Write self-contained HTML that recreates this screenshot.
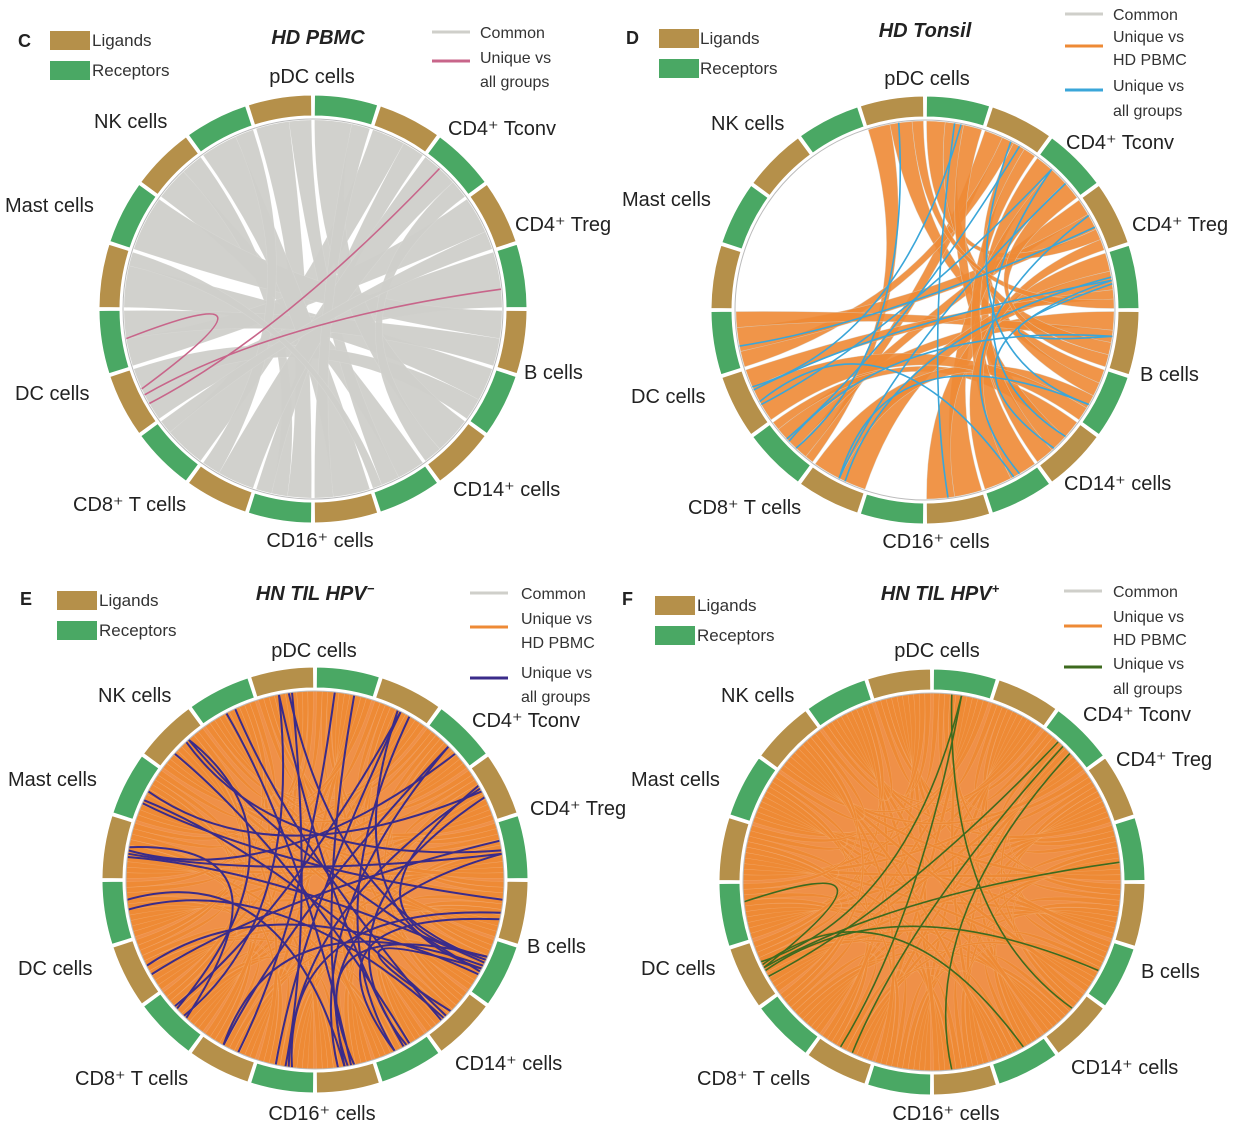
<!DOCTYPE html>
<html><head><meta charset="utf-8">
<style>
html,body{margin:0;padding:0;background:#fff;}
svg{display:block;font-family:"Liberation Sans",sans-serif;}
</style></head>
<body>
<svg id="fig" width="1243" height="1125" viewBox="0 0 1243 1125" xmlns="http://www.w3.org/2000/svg">
<g id="chords"></g>
<g id="static" font-size="19" fill="#222">
  <text x="18" y="47" font-weight="bold" font-size="18">C</text>
  <text x="626" y="44" font-weight="bold" font-size="18">D</text>
  <text x="20" y="605" font-weight="bold" font-size="18">E</text>
  <text x="622" y="605" font-weight="bold" font-size="18">F</text>
  <text x="318" y="44" text-anchor="middle" font-weight="bold" font-style="italic" font-size="20">HD PBMC</text>
  <text x="925" y="37" text-anchor="middle" font-weight="bold" font-style="italic" font-size="20">HD Tonsil</text>
  <text x="315" y="600" text-anchor="middle" font-weight="bold" font-style="italic" font-size="20">HN TIL HPV<tspan font-size="13" dy="-7">−</tspan></text>
  <text x="940" y="600" text-anchor="middle" font-weight="bold" font-style="italic" font-size="20">HN TIL HPV<tspan font-size="13" dy="-7">+</tspan></text>
</g>
<g id="legends" font-size="17" fill="#333"></g>
<g id="rings"></g>
<g id="labels" font-size="20" fill="#222"></g>
</svg>
<script>
const NS="http://www.w3.org/2000/svg";
const cells=["pDC cells","CD4⁺ Tconv","CD4⁺ Treg","B cells","CD14⁺ cells","CD16⁺ cells","CD8⁺ T cells","DC cells","Mast cells","NK cells"];
const linksC=[[9,4,3],[0,5,3],[1,6,3],[9,5,2],[0,4,2],[1,5,2],[8,3,3],[7,2,2],[7,3,2],[2,7,2],[3,8,2],[3,7,2],[4,0,2],[5,9,2],[6,1,2],[4,1,1],[5,0,1],[6,9,1],[2,6,1],[8,4,1]];
const linksD=[[0,6,2],[0,3,2],[1,6,3],[1,7,2],[1,3,2],[2,6,3],[2,7,3],[2,0,2],[3,6,3],[3,7,2],[3,0,2],[4,6,2],[4,0,2],[4,1,2],[5,1,2],[5,2,2],[6,2,2],[6,3,2],[7,3,2],[7,2,1],[1,4,2],[2,4,2],[0,2,1],[3,1,2]];
const hiD=[[7,1],[7,2],[6,3],[6,2],[7,0],[2,7],[3,6],[4,1],[5,0],[6,1],[7,4],[1,6],[0,6],[3,2],[2,4],[4,2],[1,3]];
const hiC=[[7,1],[7,7],[7,2]];
const hiE=[[9,4],[0,5],[1,5],[2,5],[3,4],[3,5],[4,3],[5,3],[6,3],[7,3],[8,3],[9,3],[0,3],[1,3],[2,3],[5,1],[5,0],[5,9],[4,9],[4,8],[8,2],[7,2],[6,1],[1,6],[0,6],[9,6],[8,6],[2,8],[3,8],[4,7],[5,7],[0,4],[1,4],[2,4],[5,2],[6,0],[9,2],[8,1]];
const hiF=[[7,1],[7,0],[7,2],[6,1],[5,1],[7,4],[7,3],[4,0],[6,0],[7,7]];
function allPairs(){const a=[];for(let s=0;s<10;s++)for(let t=0;t<10;t++)a.push([s,t,1]);return a;}
const linksE=allPairs();
const linksF=allPairs();
const panels=[
 {id:"c",cx:313,cy:309,R:214,links:linksC,fill:"#cfcfca",op:0.95,hi:hiC,hc:"#c8658a",under:null,disk:null},
 {id:"d",cx:925,cy:310,R:214,links:linksD,fill:"#ee8a35",op:0.9,hi:hiD,hc:"#3aa6d9",under:"#d5d5d0",disk:null},
 {id:"e",cx:315,cy:880,R:213,links:linksE,fill:"#ee8a35",op:1,hi:hiE,hc:"#3a2b8a",under:null,disk:"#ef9048"},
 {id:"f",cx:932,cy:882,R:213,links:linksF,fill:"#ee8a35",op:1,hi:hiF,hc:"#3d6a1e",under:null,disk:"#ef9048"}
];
const labelPos={
 c:[[312,76,"middle"],[448,128,"start"],[515,224,"start"],[524,372,"start"],[453,489,"start"],[320,540,"middle"],[73,504,"start"],[15,393,"start"],[5,205,"start"],[94,121,"start"]],
 d:[[927,78,"middle"],[1066,142,"start"],[1132,224,"start"],[1140,374,"start"],[1064,483,"start"],[936,541,"middle"],[688,507,"start"],[631,396,"start"],[622,199,"start"],[711,123,"start"]],
 e:[[314,650,"middle"],[472,720,"start"],[530,808,"start"],[527,946,"start"],[455,1063,"start"],[322,1113,"middle"],[75,1078,"start"],[18,968,"start"],[8,779,"start"],[98,695,"start"]],
 f:[[937,650,"middle"],[1083,714,"start"],[1116,759,"start"],[1141,971,"start"],[1071,1067,"start"],[946,1113,"middle"],[697,1078,"start"],[641,968,"start"],[631,779,"start"],[721,695,"start"]]
};
function pt(p,r,deg){const a=deg*Math.PI/180;return [p.cx+r*Math.sin(a),p.cy-r*Math.cos(a)];}
function f(v){return v[0].toFixed(1)+" "+v[1].toFixed(1);}
const chordG=document.getElementById("chords");
const ringG=document.getElementById("rings");
const labG=document.getElementById("labels");
panels.forEach(p=>{
  const r=189;
  const g=document.createElementNS(NS,"g");
  
  
  chordG.appendChild(g);
  if(p.disk){
    const dk=document.createElementNS(NS,"circle");
    
    
    dk.setAttribute("cx",p.cx);dk.setAttribute("cy",p.cy);dk.setAttribute("r",r);dk.setAttribute("fill",p.disk);
    g.appendChild(dk);
  }
  const srcTot=new Array(10).fill(0),tgtTot=new Array(10).fill(0);
  p.links.forEach(l=>{srcTot[l[0]]+=l[2];tgtTot[l[1]]+=l[2];});
  const srcUsed=new Array(10).fill(0),tgtUsed=new Array(10).fill(0);
  p.links.forEach(l=>{
    const s=l[0],t=l[1],w=l[2];
    const sa=36*s-18+0.5, sw=17;
    const ta=36*t+0.5, tw=17;
    const a1=sa+sw*srcUsed[s]/srcTot[s]; srcUsed[s]+=w; const a2=sa+sw*srcUsed[s]/srcTot[s];
    const b1=ta+tw*tgtUsed[t]/tgtTot[t]; tgtUsed[t]+=w; const b2=ta+tw*tgtUsed[t]/tgtTot[t];
    const c=[p.cx,p.cy];
    const d="M"+f(pt(p,r,a1))+" A"+r+" "+r+" 0 0 1 "+f(pt(p,r,a2))+" Q"+f(c)+" "+f(pt(p,r,b1))+" A"+r+" "+r+" 0 0 1 "+f(pt(p,r,b2))+" Q"+f(c)+" "+f(pt(p,r,a1))+"Z";
    const path=document.createElementNS(NS,"path");
    
    
    path.setAttribute("d",d);
    path.setAttribute("fill",p.fill);
    path.setAttribute("fill-opacity",p.op);
    path.setAttribute("stroke",p.under||"#fff");
    path.setAttribute("stroke-opacity",p.under?0.6:0.15);
    path.setAttribute("stroke-width",0.6);
    g.appendChild(path);
  });
  p.hi.forEach((h,i)=>{
    const a=36*h[0]-9+((i*5)%7-3), b=36*h[1]+9+((i*3)%7-3);
    const ctrl=pt(p,40,(a+b)/2+90);
    const path=document.createElementNS(NS,"path");
    
    
    path.setAttribute("d","M"+f(pt(p,r,a))+" Q"+f(ctrl)+" "+f(pt(p,r,b)));
    path.setAttribute("fill","none");
    path.setAttribute("stroke",p.hc);
    path.setAttribute("stroke-width",p.id==="e"?2:1.6);
    g.appendChild(path);
  });
  const rg=document.createElementNS(NS,"g");
  
  
  ringG.appendChild(rg);
  const ci=document.createElementNS(NS,"circle");
  
  
  ci.setAttribute("cx",p.cx);ci.setAttribute("cy",p.cy);ci.setAttribute("r",p.R-24);
  ci.setAttribute("fill","none");ci.setAttribute("stroke","#bbb");ci.setAttribute("stroke-width",1);
  rg.appendChild(ci);
  const Ro=p.R, Ri=p.R-21;
  for(let i=0;i<20;i++){
    const a1=-18+18*i+0.4,a2=18*i-0.4;
    const d="M"+f(pt(p,Ro,a1))+" A"+Ro+" "+Ro+" 0 0 1 "+f(pt(p,Ro,a2))+" L"+f(pt(p,Ri,a2))+" A"+Ri+" "+Ri+" 0 0 0 "+f(pt(p,Ri,a1))+"Z";
    const seg=document.createElementNS(NS,"path");
    
    
    seg.setAttribute("d",d);
    seg.setAttribute("fill",i%2?"#4aa864":"#b5904a");
    seg.setAttribute("stroke","#fff");seg.setAttribute("stroke-width",1);
    rg.appendChild(seg);
  }
  labelPos[p.id].forEach((lp,k)=>{
    const t=document.createElementNS(NS,"text");
    
    
    t.setAttribute("x",lp[0]);t.setAttribute("y",lp[1]+7);
    t.setAttribute("text-anchor",lp[2]);
    t.textContent=cells[k];
    labG.appendChild(t);
  });
});
const legG=document.getElementById("legends");
const boxLeg=[[50,31,92],[659,29,700],[57,591,99],[655,596,697]];
boxLeg.forEach(b=>{
  [["#b5904a","Ligands",0],["#4aa864","Receptors",30]].forEach(e=>{
    const r=document.createElementNS(NS,"rect");
    
    
    r.setAttribute("x",b[0]);r.setAttribute("y",b[1]+e[2]);r.setAttribute("width",40);r.setAttribute("height",19);r.setAttribute("fill",e[0]);
    legG.appendChild(r);
    const t=document.createElementNS(NS,"text");
    
    
    t.setAttribute("x",b[2]);t.setAttribute("y",b[1]+e[2]+15);t.textContent=e[1];
    legG.appendChild(t);
  });
});
const lineLeg=[
 [432,480,[["#cfcfca",32,["Common"],[38]],["#c8658a",61,["Unique vs","all groups"],[63,87]]]],
 [1065,1113,[["#cfcfca",14,["Common"],[20]],["#ee8a35",46,["Unique vs","HD PBMC"],[42,65]],["#3aa6d9",90,["Unique vs","all groups"],[91,116]]]],
 [470,521,[["#cfcfca",593,["Common"],[599]],["#ee8a35",627,["Unique vs","HD PBMC"],[624,648]],["#3a2b8a",678,["Unique vs","all groups"],[678,702]]]],
 [1064,1113,[["#cfcfca",591,["Common"],[597]],["#ee8a35",626,["Unique vs","HD PBMC"],[622,645]],["#3d6a1e",667,["Unique vs","all groups"],[669,694]]]]
];
lineLeg.forEach(L=>{
  L[2].forEach(e=>{
    const ln=document.createElementNS(NS,"line");
    
    
    ln.setAttribute("x1",L[0]);ln.setAttribute("x2",L[0]+38);ln.setAttribute("y1",e[1]);ln.setAttribute("y2",e[1]);
    ln.setAttribute("stroke",e[0]);ln.setAttribute("stroke-width",3);
    legG.appendChild(ln);
    e[2].forEach((s,i)=>{
      const t=document.createElementNS(NS,"text");
      
      
      t.setAttribute("x",L[1]);t.setAttribute("y",e[3][i]);t.setAttribute("font-size","16");t.textContent=s;
      legG.appendChild(t);
    });
  });
});
</script>
</body></html>
